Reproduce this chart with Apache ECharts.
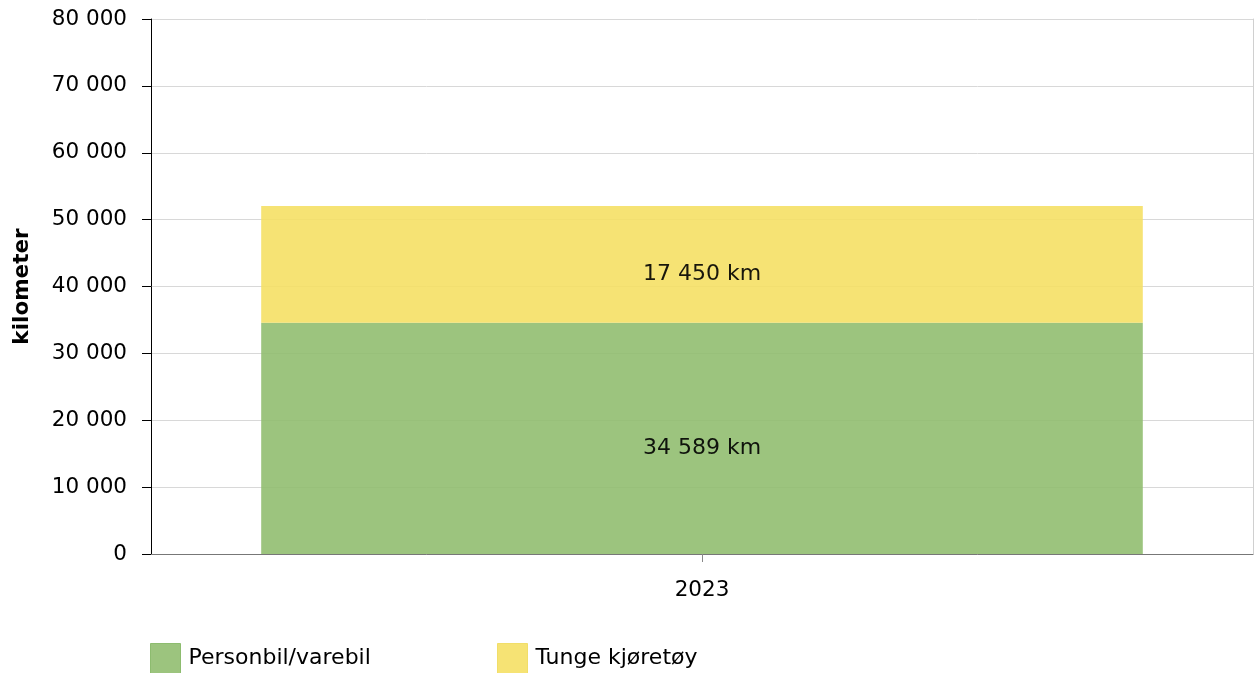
<!DOCTYPE html>
<html><head><meta charset="utf-8">
<script src="https://cdn.jsdelivr.net/npm/echarts@6/dist/echarts.min.js"></script>
<style>html,body{margin:0;padding:0;background:#fff}#c{width:1255px;height:673px}</style>
</head><body><div id="c"></div>
<script>
const categories = ['2023'];
const personbil = [34589];
const tunge = [17450];
const seriesNames = ['Personbil/varebil', 'Tunge kjøretøy'];
const yTicks = [0, 10000, 20000, 30000, 40000, 50000, 60000, 70000, 80000];

const FONT = 'DejaVu Sans';
const fmt = v => String(v).replace(/\B(?=(\d{3})+(?!\d))/g, ' ');
const chart = echarts.init(document.getElementById('c'), null, {renderer: 'canvas'});
const lbl = {
  show: true, position: 'inside', offset: [0, 10],
  color: '#000', fontFamily: FONT, fontSize: 22,
  formatter: p => fmt(p.value) + ' km'
};
const legendText = {fontFamily: FONT, fontSize: 22, color: '#000', padding: [0,0,0,3]};
chart.setOption({
  animation: false,
  textStyle: {fontFamily: FONT},
  grid: {left: 151, right: 2, top: 19, bottom: 119, containLabel: false},
  legend: [
    {data: [{name: seriesNames[0], icon: 'rect', itemStyle: {borderColor: '#86b866', borderWidth: 1}}],
     left: 150, top: 643, itemWidth: 30, itemHeight: 30, itemGap: 0, textStyle: legendText, padding: 0},
    {data: [{name: seriesNames[1], icon: 'rect', itemStyle: {borderColor: '#f0dc60', borderWidth: 1}}],
     left: 497, top: 643, itemWidth: 30, itemHeight: 30, itemGap: 0, textStyle: legendText, padding: 0}
  ],
  xAxis: {
    type: 'category', data: categories,
    axisLine: {lineStyle: {color: '#777', width: 1}},
    axisTick: {show: true, alignWithLabel: true, length: 8, lineStyle: {color: '#888'}},
    axisLabel: {fontFamily: FONT, fontSize: 21.5, color: '#000', margin: 25}
  },
  yAxis: [{
    type: 'value', min: yTicks[0], max: yTicks[yTicks.length - 1], interval: yTicks[1] - yTicks[0],
    name: 'kilometer', nameLocation: 'middle', nameGap: 118, nameRotate: 90,
    nameTextStyle: {fontFamily: FONT, fontSize: 21.5, fontWeight: 'bold', color: '#000'},
    axisLine: {show: true, lineStyle: {color: '#000', width: 1}},
    axisTick: {show: true, length: 9, lineStyle: {color: '#000'}},
    axisLabel: {fontFamily: FONT, fontSize: 21.5, color: '#000', margin: 24, padding: [2,0,0,0], formatter: v => fmt(v)},
    splitLine: {show: true, lineStyle: {color: '#d8d8d8', width: 1}}
  }, {
    type: 'value', position: 'right', min: 0, max: 80000, interval: 10000,
    axisLine: {show: true, lineStyle: {color: '#d0d0d0'}},
    axisTick: {show: false}, axisLabel: {show: false}, splitLine: {show: false}
  }],
  series: [
    {name: seriesNames[0], type: 'bar', stack: 'total', data: personbil, barCategoryGap: '20%',
     itemStyle: {color: '#91be70', opacity: 0.9}, label: lbl, z: 1},
    {name: seriesNames[1], type: 'bar', stack: 'total', data: tunge, barCategoryGap: '20%',
     itemStyle: {color: '#f5e065', opacity: 0.9}, label: lbl, z: 1}
  ]
});
</script></body></html>
